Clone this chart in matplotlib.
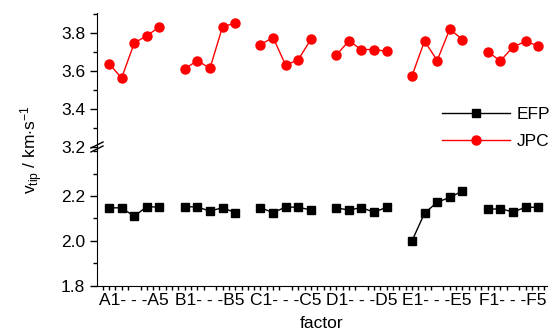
import matplotlib
matplotlib.use('Agg')
import matplotlib.pyplot as plt
import numpy as np
from matplotlib.ticker import MultipleLocator

plt.rcParams['font.family'] = ['Liberation Sans', 'DejaVu Sans']
plt.rcParams['mathtext.fontset'] = 'custom'
plt.rcParams['mathtext.rm'] = 'Liberation Sans'
plt.rcParams['mathtext.it'] = 'Liberation Sans:italic'

groups = ['A', 'B', 'C', 'D', 'E', 'F']
group_labels = ['%s1- - -%s5' % (g, g) for g in groups]

efp = [
    [2.148, 2.147, 2.110, 2.153, 2.150],
    [2.153, 2.151, 2.133, 2.148, 2.126],
    [2.148, 2.126, 2.151, 2.150, 2.138],
    [2.147, 2.138, 2.148, 2.128, 2.150],
    [2.000, 2.124, 2.172, 2.194, 2.222],
    [2.140, 2.144, 2.129, 2.150, 2.150],
]
jpc = [
    [3.639, 3.563, 3.747, 3.786, 3.832],
    [3.611, 3.655, 3.614, 3.834, 3.851],
    [3.739, 3.776, 3.630, 3.660, 3.767],
    [3.683, 3.758, 3.713, 3.713, 3.704],
    [3.574, 3.758, 3.655, 3.821, 3.765],
    [3.702, 3.653, 3.726, 3.756, 3.732],
]

W, H = 553, 336
fig = plt.figure(figsize=(W / 100, H / 100), dpi=100)
left, right = 97 / W, 547 / W
y_top, y_brk, y_bot = 13, 147, 286
ax_up = fig.add_axes([left, 1 - y_brk / H, right - left, (y_brk - y_top) / H])
ax_lo = fig.add_axes([left, 1 - y_bot / H, right - left, (y_bot - y_brk) / H])

for i in range(len(groups)):
    x = np.arange(5) + 1 + 6 * i
    l1, = ax_lo.plot(x, efp[i], color='black', lw=1, marker='s', ms=6)
    l2, = ax_up.plot(x, jpc[i], color='red', lw=1, marker='o', ms=6.5)

for ax in (ax_up, ax_lo):
    ax.set_xlim(0.05, 35.7)
    for s in ('top', 'right'):
        ax.spines[s].set_visible(False)
    ax.tick_params(axis='y', which='major', length=5, width=1, labelsize=12.5, direction='out')
    ax.tick_params(axis='y', which='minor', length=3, width=1, direction='out')
    ax.yaxis.set_minor_locator(MultipleLocator(0.1))

ax_up.spines['bottom'].set_visible(False)
ax_up.tick_params(axis='x', which='both', bottom=False, labelbottom=False)
ax_up.set_ylim(3.2, 3.2 + (y_brk - y_top) / 190)
ax_up.set_yticks([3.2, 3.4, 3.6, 3.8])

ax_lo.set_ylim(1.8, 1.8 + (y_bot - y_brk) / 225)
ax_lo.set_yticks([1.8, 2.0, 2.2])
ax_lo.set_xticks([3 + 6 * i for i in range(len(groups))])
ax_lo.set_xticklabels(group_labels)
ax_lo.xaxis.set_minor_locator(MultipleLocator(0.5))
ax_lo.tick_params(axis='x', which='major', length=0, labelsize=12.5, pad=5)
ax_lo.tick_params(axis='x', which='minor', length=3, width=1, direction='out')
ax_lo.set_xlabel('factor', fontsize=12.5, labelpad=6)

fig.text(32 / W, 1 - 150 / H, r'$\mathrm{v}_{\mathrm{tip}}$ / km$\cdot$s$^{-1}$',
         rotation=90, ha='center', va='center', fontsize=12.5)

# axis break marks
for dy in (-2, 2):
    fig.lines.append(plt.Line2D([91 / W, 103 / W],
                                [1 - (y_brk + 3 + dy) / H, 1 - (y_brk - 3 + dy) / H],
                                transform=fig.transFigure, color='black', lw=1))

fig.legend([l1, l2], ['EFP', 'JPC'], loc='upper left',
           bbox_to_anchor=(442 / W, 1 - 107 / H), frameon=False, fontsize=12.5,
           handlelength=3.9, handletextpad=0.4, borderpad=0, borderaxespad=0,
           labelspacing=0.7)

fig.savefig('out.png', dpi=100)
